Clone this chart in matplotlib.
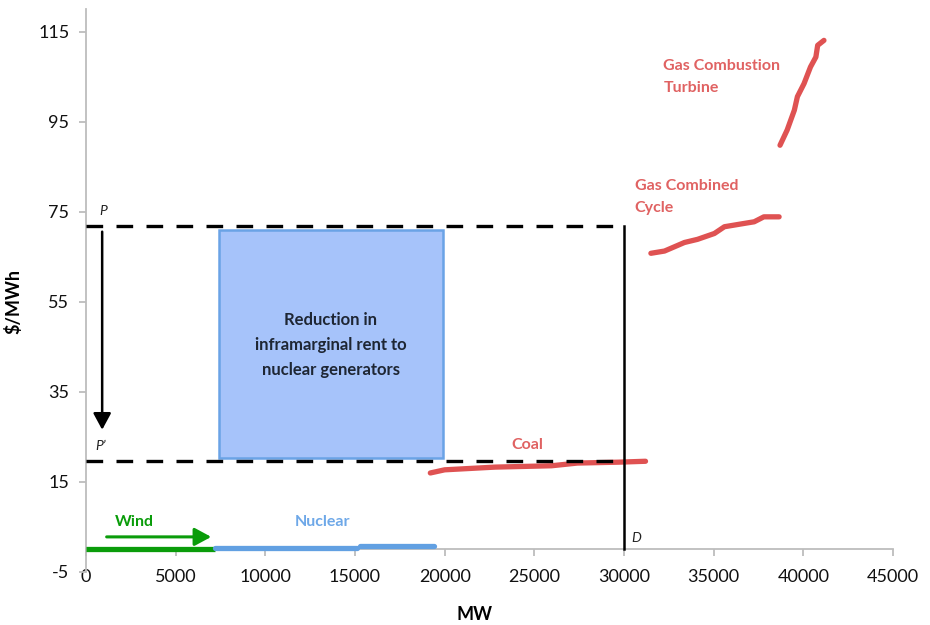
import matplotlib

matplotlib.use("Agg")
import matplotlib.pyplot as plt
from matplotlib.patches import Rectangle

plt.rcParams["font.family"] = ["Lato", "DejaVu Sans"]
plt.rcParams["axes.unicode_minus"] = False

# axis ticks
x_ticks = [0, 5000, 10000, 15000, 20000, 25000, 30000, 35000, 40000, 45000]
y_ticks = [-5, 15, 35, 55, 75, 95, 115]

# prices and demand
price_p = 71.8
price_p2 = 19.6
demand_mw = 30000

# rent reduction box (MW span, $/MWh span)
rent_x = [7400, 19900]
rent_y = [20.4, 71.0]

# supply curve pieces
wind_x = [0, 7200]
wind_y = [0.0, 0.0]
nuclear_x1 = [7200, 15100]
nuclear_y1 = [0.3, 0.3]
nuclear_x2 = [15300, 19400]
nuclear_y2 = [0.7, 0.7]
coal_x = [19200, 20000, 22800, 25960, 27400, 29700, 31200]
coal_y = [17.0, 17.7, 18.3, 18.6, 19.2, 19.4, 19.6]
ccgt_x = [31500, 32260, 33370, 34100, 35040, 35600, 36500, 37260, 37800, 38650]
ccgt_y = [65.8, 66.3, 68.2, 68.9, 70.2, 71.7, 72.3, 72.8, 73.9, 73.9]
ct_x = [38700, 39100, 39500, 39670, 40040, 40400, 40700, 40800, 41150]
ct_y = [89.8, 93.2, 97.6, 100.6, 103.5, 107.2, 109.4, 112.0, 113.1]

# arrows (start, end)
price_arrow = ([900, 70.6], [900, 26.6])
wind_arrow = ([1150, 2.8], [6980, 2.8])

red_line = "#df5252"
red_text = "#e06262"
blue_line = "#62a0e2"
blue_text = "#6ea8e8"
green = "#0a9c0a"

fig = plt.figure(figsize=(9.3, 6.25), dpi=100)
ax = fig.add_axes([0.0925, 0.0848, 0.8677, 0.9003])

ax.add_patch(
    Rectangle(
        (rent_x[0], rent_y[0]),
        rent_x[1] - rent_x[0],
        rent_y[1] - rent_y[0],
        facecolor="#a6c3fa",
        edgecolor="#6aa3e6",
        linewidth=1.8,
        zorder=2,
    )
)
ax.text(
    sum(rent_x) / 2,
    45.4,
    "Reduction in\ninframarginal rent to\nnuclear generators",
    ha="center",
    va="center",
    fontsize=12,
    fontweight="bold",
    color="#1e2633",
    linespacing=1.7,
    zorder=3,
)

line_kw = dict(linewidth=3.8, solid_capstyle="round", zorder=3)
ax.plot(wind_x, wind_y, color=green, solid_capstyle="butt", linewidth=3.8, zorder=3)
ax.plot(nuclear_x1, nuclear_y1, color=blue_line, **line_kw)
ax.plot(nuclear_x2, nuclear_y2, color=blue_line, **line_kw)
ax.plot(coal_x, coal_y, color=red_line, **line_kw)
ax.plot(ccgt_x, ccgt_y, color=red_line, **line_kw)
ax.plot(ct_x, ct_y, color=red_line, **line_kw)

dash_kw = dict(color="black", linewidth=2.4, dashes=(5, 4), zorder=4)
ax.plot([0, demand_mw], [price_p, price_p], **dash_kw)
ax.plot([0, demand_mw], [price_p2, price_p2], **dash_kw)
ax.plot([demand_mw, demand_mw], [price_p, 0], color="black", linewidth=1.8, zorder=4)

arrow_style = "-|>,head_length=0.5,head_width=0.27"
ax.annotate(
    "",
    xy=price_arrow[1],
    xytext=price_arrow[0],
    arrowprops=dict(arrowstyle=arrow_style, color="black", lw=1.8,
                    mutation_scale=20, shrinkA=0, shrinkB=0),
    zorder=4,
)
ax.annotate(
    "",
    xy=wind_arrow[1],
    xytext=wind_arrow[0],
    arrowprops=dict(arrowstyle=arrow_style, color=green, lw=2.2,
                    mutation_scale=20, shrinkA=0, shrinkB=0),
    zorder=4,
)

ax.text(950, 75.2, "P", style="italic", fontsize=10, ha="center", va="center", color="#222222")
ax.text(800, 22.9, "P\u2019", style="italic", fontsize=10, ha="center", va="center", color="#222222")
ax.text(30700, 2.6, "D", style="italic", fontsize=10, ha="center", va="center", color="#222222")

label_kw = dict(fontsize=11.5, fontweight="bold", va="center")
ax.text(2720, 6.2, "Wind", color=green, ha="center", **label_kw)
ax.text(13170, 6.2, "Nuclear", color=blue_text, ha="center", **label_kw)
ax.text(24600, 23.3, "Coal", color=red_text, ha="center", **label_kw)
ax.text(32200, 105.0, "Gas Combustion\nTurbine", color=red_text, ha="left",
        linespacing=1.75, **label_kw)
ax.text(30600, 78.3, "Gas Combined\nCycle", color=red_text, ha="left",
        linespacing=1.75, **label_kw)

ax.set_xlim(0, 45000)
ax.set_ylim(-5, 120)
ax.set_xticks(x_ticks)
ax.set_yticks(y_ticks)

for side in ("top", "right"):
    ax.spines[side].set_visible(False)
ax.spines["bottom"].set_position(("data", 0))
for side in ("left", "bottom"):
    ax.spines[side].set_color("#bdbdbd")
    ax.spines[side].set_linewidth(1.3)

ax.tick_params(axis="x", direction="out", length=5, width=1.3, color="#bdbdbd",
               labelsize=13, pad=9, labelcolor="#111111")
ax.tick_params(axis="y", direction="out", length=5, width=1.3, color="#bdbdbd",
               labelsize=13, pad=7, labelcolor="#111111")

ax.set_xlabel("MW", fontsize=13, fontweight="bold")
ax.set_ylabel("\\$/MWh", fontsize=13, fontweight="bold")
ax.xaxis.set_label_coords(0.481, -0.060)
ax.yaxis.set_label_coords(-0.079, 0.48)

fig.savefig("out.png", dpi=100)
